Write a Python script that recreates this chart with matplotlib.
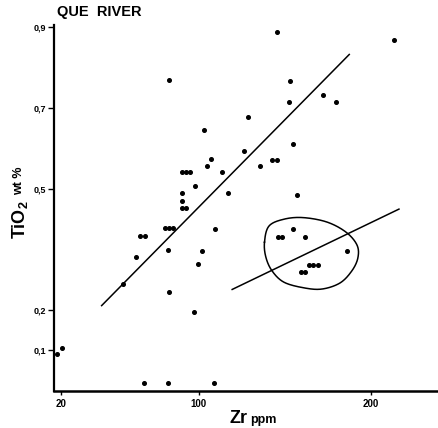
import numpy as np
import matplotlib
matplotlib.use('Agg')
import matplotlib.pyplot as plt

plt.rcParams['font.family'] = ['Liberation Sans', 'DejaVu Sans']
plt.rcParams['mathtext.fontset'] = 'custom'
plt.rcParams['mathtext.rm'] = 'Liberation Sans'
plt.rcParams['mathtext.bf'] = 'Liberation Sans:bold'

# Zr (ppm) and TiO2 (wt %)
zr = [17.7, 20.2, 68.3, 82.2, 108.6, 82.9, 102.8, 107.3, 104.6,
      90.2, 92.5, 94.8, 113.7, 97.6, 90.2, 116.8, 90.2, 90.2, 92.7,
      80.5, 82.6, 85.0, 66.0, 68.5, 109.4, 82.2, 102.1, 63.2, 99.5,
      56.1, 82.6, 97.0, 145.7, 213.3, 153.0, 152.6, 172.2, 179.8,
      128.9, 154.7, 126.1, 142.7, 145.6, 135.7, 157.2, 154.9,
      145.8, 148.1, 161.7, 186.0, 164.2, 166.5, 169.1, 159.4, 161.9]
tio2 = [0.092, 0.106, 0.020, 0.019, 0.019, 0.771, 0.646, 0.575, 0.557,
        0.541, 0.541, 0.541, 0.541, 0.507, 0.491, 0.489, 0.471, 0.453, 0.452,
        0.403, 0.403, 0.403, 0.384, 0.384, 0.401, 0.348, 0.347, 0.331, 0.314,
        0.264, 0.245, 0.194, 0.889, 0.870, 0.768, 0.716, 0.732, 0.716,
        0.679, 0.612, 0.594, 0.572, 0.572, 0.557, 0.484, 0.400,
        0.382, 0.382, 0.382, 0.346, 0.3115, 0.3115, 0.3115, 0.295, 0.295]

# trend lines (end points)
line_main_x = [43.5, 187.5]
line_main_y = [0.211, 0.833]
line_group_x = [119.4, 216.4]
line_group_y = [0.251, 0.450]

# outline round the separate group
blob_x = [138.2, 140.8, 149.5, 160.6, 174.5, 185.6, 192.0, 192.5,
          189.0, 182.1, 171.6, 161.1, 149.5, 142.6, 139.0]
blob_y = [0.368, 0.408, 0.425, 0.429, 0.418, 0.393, 0.361, 0.329,
          0.297, 0.267, 0.252, 0.255, 0.269, 0.297, 0.331]

yticks = [0.1, 0.2, 0.5, 0.7, 0.9]
yticklabels = ['0,1', '0,2', '0,5', '0,7', '0,9']
xticks = [20, 100, 200]
xticklabels = ['20', '100', '200']


def closed_spline(xs, ys, n=30):
    # periodic Catmull-Rom through the outline points
    p = np.column_stack([xs, ys])
    m = len(p)
    out = []
    t = np.linspace(0, 1, n, endpoint=False)[:, None]
    for i in range(m):
        p0, p1, p2, p3 = p[i - 1], p[i], p[(i + 1) % m], p[(i + 2) % m]
        seg = 0.5 * ((2 * p1) + (-p0 + p2) * t
                     + (2 * p0 - 5 * p1 + 4 * p2 - p3) * t ** 2
                     + (-p0 + 3 * p1 - 3 * p2 + p3) * t ** 3)
        out.append(seg)
    out = np.vstack(out + [p[0:1]])
    return out[:, 0], out[:, 1]


fig = plt.figure(figsize=(4.38, 4.28), dpi=100)
ax = fig.add_axes([54 / 438, 37.2 / 428, 384 / 438, 365.4 / 428])

ax.plot(zr, tio2, 'o', color='black', markersize=2.6, zorder=3)
ax.plot(line_main_x, line_main_y, color='black', linewidth=1.1)
ax.plot(line_group_x, line_group_y, color='black', linewidth=1.1)
bx, by = closed_spline(blob_x, blob_y)
ax.plot(bx, by, color='black', linewidth=1.1)

ax.set_xlim(15.8, 239.1)
ax.set_ylim(0, 0.905)
for side in ['top', 'right']:
    ax.spines[side].set_visible(False)
ax.spines['left'].set_linewidth(1.6)
ax.spines['bottom'].set_linewidth(1.8)

ax.set_yticks(yticks)
ax.set_yticklabels(yticklabels, fontsize=6.5, fontweight='bold')
ax.set_xticks(xticks)
ax.set_xticklabels(xticklabels, fontsize=7, fontweight='bold')
ax.tick_params(axis='y', direction='out', length=4, width=1, pad=1.5)
ax.tick_params(axis='x', direction='out', length=3, width=1, pad=3)

fig.text(57 / 438, 1 - 12 / 428, 'QUE  RIVER', ha='left', va='center',
         fontsize=10.5, fontweight='bold')
fig.text(230 / 438, 1 - 423 / 428, 'Zr', ha='left', va='baseline',
         fontsize=13, fontweight='bold')
fig.text(250 / 438, 1 - 423 / 428, 'ppm', ha='left', va='baseline',
         fontsize=9, fontweight='bold')
fig.text(20 / 438, 1 - 220 / 428, r'$\mathbf{TiO_2}$', rotation=90,
         ha='center', va='center', fontsize=13)
fig.text(19 / 438, 1 - 181 / 428, 'wt %', rotation=90,
         ha='center', va='center', fontsize=9, fontweight='bold')

fig.savefig('out.png', dpi=100)
